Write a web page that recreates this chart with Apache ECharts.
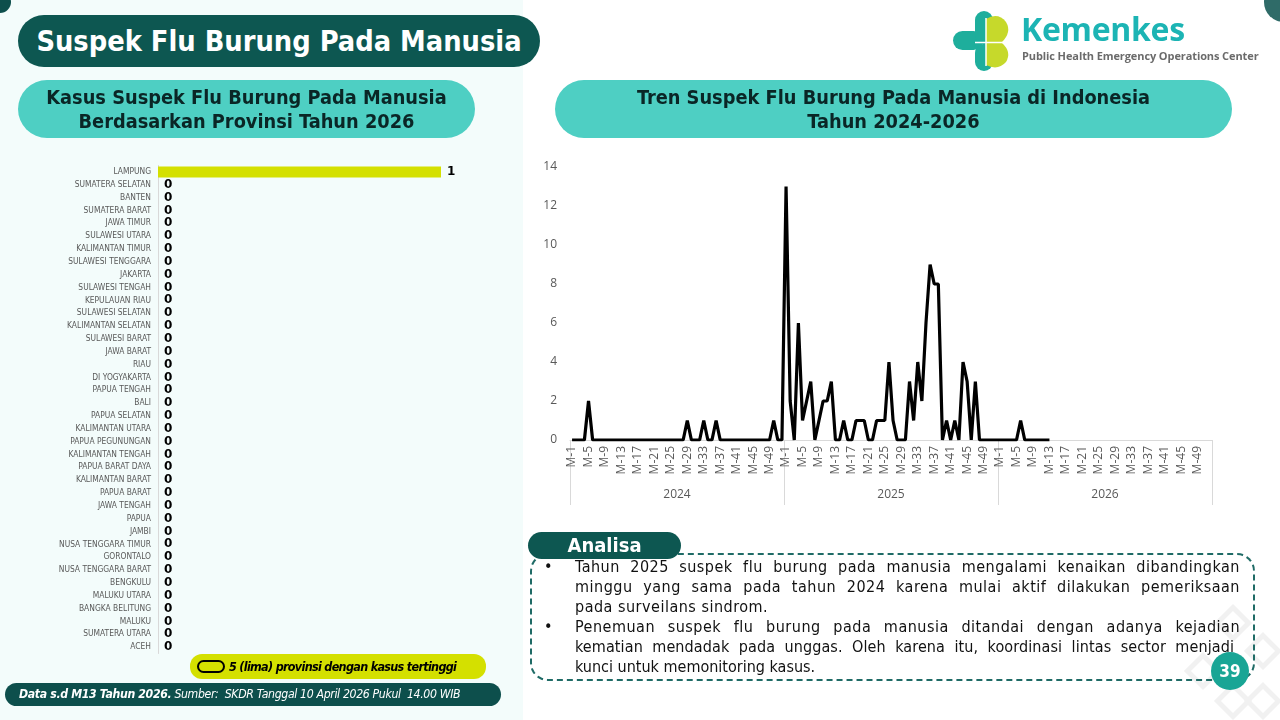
<!DOCTYPE html>
<html>
<head>
<meta charset="utf-8">
<script src="https://cdn.jsdelivr.net/npm/echarts@6/dist/echarts.min.js"></script>
<style>
  html, body { margin:0; padding:0; }
  body { width:1280px; height:720px; overflow:hidden; background:#ffffff; position:relative; font-family:"DejaVu Sans", sans-serif; }
  #leftbg { position:absolute; left:0; top:0; width:523px; height:720px; background:#f3fcfb; }
  #chart { position:absolute; left:0; top:0; width:1280px; height:720px; }
  .abs { position:absolute; box-sizing:border-box; }
  #title { left:18px; top:15px; width:522px; height:52px; border-radius:26px; background:#0d5751; color:#fff;
           font-weight:bold; font-size:28.7px; line-height:52px; text-align:center; font-family:"DejaVu Sans Condensed","DejaVu Sans",sans-serif; }
  .sub { height:58px; border-radius:29px; background:#4ecfc3; color:#0a2626; font-weight:bold; font-size:19.8px;
         line-height:24px; text-align:center; padding-top:6px; font-family:"DejaVu Sans Condensed","DejaVu Sans",sans-serif; }
  #subL { left:18px; top:80px; width:457px; }
  #subR { left:555px; top:80px; width:677px; }
  #box { left:530px; top:553px; width:725px; height:128px; border:2.5px dashed #1f6b66; border-radius:18px; }
  #analisa { left:528px; top:532px; width:153px; height:27px; border-radius:14px; background:#0d5751; color:#fff;
             font-weight:bold; font-size:20px; line-height:27px; text-align:center; font-family:"DejaVu Sans Condensed","DejaVu Sans",sans-serif; }
  #text { left:540px; top:557px; width:700px; font-family:"DejaVu Sans Condensed","DejaVu Sans",sans-serif; font-size:16px; color:#111; }
  #text .ln { margin-left:35px; height:20px; line-height:20px; white-space:nowrap; text-align:justify; text-align-last:justify; letter-spacing:0.5px; }
  #text .ln.last { text-align-last:left; }
  #text .bul { position:absolute; left:4px; }
  #pg { left:1211px; top:652px; width:38px; height:38px; border-radius:19px; background:#19a595; color:#fff; font-weight:bold;
        font-size:17px; line-height:38px; text-align:center; font-family:"DejaVu Sans Condensed","DejaVu Sans",sans-serif; }
  #footer { left:5px; top:683px; width:496px; height:23px; border-radius:12px; background:#0d4f4c; color:#fff; font-size:12.2px;
            line-height:23px; padding-left:14px; font-style:italic; white-space:nowrap; font-family:"DejaVu Sans Condensed","DejaVu Sans",sans-serif; letter-spacing:-0.35px; }
  #legend { left:190px; top:654px; width:296px; height:25px; border-radius:12px; background:#d4e000; }
  #legend .sw { position:absolute; left:7px; top:6px; width:28px; height:13px; border:2.5px solid #000; border-radius:7px; box-sizing:border-box; }
  #legend .tx { position:absolute; left:39px; top:0; line-height:25px; font-size:12.5px; font-weight:bold; font-style:italic; color:#000;
                white-space:nowrap; font-family:"DejaVu Sans Condensed","DejaVu Sans",sans-serif; letter-spacing:-0.7px; }
  #kem { left:1021px; top:6px; font-family:"Open Sans",sans-serif; font-weight:bold; font-size:32px; color:#1cb4b4; line-height:46px; letter-spacing:-0.3px; }
  #phe { left:1022px; top:48px; font-family:"Open Sans",sans-serif; font-weight:bold; font-size:11px; color:#6b6b6b; white-space:nowrap; letter-spacing:-0.1px; }
</style>
</head>
<body>
<div id="leftbg"></div>
<div id="chart"></div>

<svg class="abs" style="left:0;top:0" width="1280" height="720">
  <circle cx="0" cy="2" r="11" fill="#0d4f4c"/>
  <circle cx="1284" cy="2" r="20" fill="#2f6b68"/>
  <!-- logo icon -->
  <rect x="953" y="31" width="30" height="19" rx="9.5" fill="#1eae9c"/>
  <rect x="975" y="11" width="18" height="34" rx="9" fill="#1eae9c"/>
  <rect x="975" y="44" width="18" height="27" rx="9" fill="#1eae9c"/>
  <path d="M986 19 Q998 12 1006 22 Q1012 32 1002 42 L986 42 Z" fill="#c6d92b"/>
  <path d="M986 43 L1002 43 Q1012 52 1006 62 Q998 71 986 65 Z" fill="#c6d92b"/>
  <line x1="986" y1="18" x2="986" y2="66" stroke="#fff" stroke-width="1.5"/>
  <line x1="975" y1="42.5" x2="1008" y2="42.5" stroke="#fff" stroke-width="1.5"/>
  <!-- faint decoration bottom right -->
  <g fill="none" stroke="#f1f1f1" stroke-width="5">
    <rect x="1222" y="612" width="22" height="22" transform="rotate(45 1233 623)"/>
    <rect x="1252" y="640" width="22" height="22" transform="rotate(45 1263 651)"/>
    <rect x="1192" y="660" width="22" height="22" transform="rotate(45 1203 671)"/>
    <rect x="1222" y="690" width="22" height="22" transform="rotate(45 1233 701)"/>
    <rect x="1252" y="690" width="22" height="22" transform="rotate(45 1263 701)"/>
  </g>
</svg>

<div id="kem" class="abs">Kemenkes</div>
<div id="phe" class="abs">Public Health Emergency Operations Center</div>

<div id="title" class="abs">Suspek Flu Burung Pada Manusia</div>
<div id="subL" class="abs sub">Kasus Suspek Flu Burung Pada Manusia<br>Berdasarkan Provinsi Tahun 2026</div>
<div id="subR" class="abs sub">Tren Suspek Flu Burung Pada Manusia di Indonesia<br>Tahun 2024-2026</div>

<div id="box" class="abs"></div>
<div id="analisa" class="abs">Analisa</div>
<div id="text" class="abs">
  <div style="position:relative">
    <span class="bul">•</span>
    <div class="ln">Tahun 2025 suspek flu burung pada manusia mengalami kenaikan dibandingkan</div>
    <div class="ln">minggu yang sama pada tahun 2024 karena mulai aktif dilakukan pemeriksaan</div>
    <div class="ln last">pada surveilans sindrom.</div>
  </div>
  <div style="position:relative">
    <span class="bul">•</span>
    <div class="ln">Penemuan suspek flu burung pada manusia ditandai dengan adanya kejadian</div>
    <div class="ln" style="margin-right:6px;letter-spacing:0.1px">kematian mendadak pada unggas. Oleh karena itu, koordinasi lintas sector menjadi</div>
    <div class="ln last" style="letter-spacing:0">kunci untuk memonitoring kasus.</div>
  </div>
</div>
<div id="pg" class="abs">39</div>

<div id="legend" class="abs"><div class="sw"></div><div class="tx">5 (lima) provinsi dengan kasus tertinggi</div></div>
<div id="footer" class="abs"><b>Data s.d M13 Tahun 2026.</b> Sumber:&nbsp; SKDR Tanggal 10 April 2026 Pukul &nbsp;14.00 WIB</div>

<script>
// ---- Data ----
const provinces = ["LAMPUNG","SUMATERA SELATAN","BANTEN","SUMATERA BARAT","JAWA TIMUR","SULAWESI UTARA","KALIMANTAN TIMUR",
  "SULAWESI TENGGARA","JAKARTA","SULAWESI TENGAH","KEPULAUAN RIAU","SULAWESI SELATAN","KALIMANTAN SELATAN","SULAWESI BARAT",
  "JAWA BARAT","RIAU","DI YOGYAKARTA","PAPUA TENGAH","BALI","PAPUA SELATAN","KALIMANTAN UTARA","PAPUA PEGUNUNGAN",
  "KALIMANTAN TENGAH","PAPUA BARAT DAYA","KALIMANTAN BARAT","PAPUA BARAT","JAWA TENGAH","PAPUA","JAMBI","NUSA TENGGARA TIMUR",
  "GORONTALO","NUSA TENGGARA BARAT","BENGKULU","MALUKU UTARA","BANGKA BELITUNG","MALUKU","SUMATERA UTARA","ACEH"];
const provinceCases = [1,0,0,0,0,0,0,0,0,0,0,0,0,0,0,0,0,0,0,0,0,0,0,0,0,0,0,0,0,0,0,0,0,0,0,0,0,0];

const years = ["2024","2025","2026"];
const weeksPerYear = 52;
const weekNames = [];
for (let k = 1; k <= weeksPerYear; k++) weekNames.push("M-" + k);

const cases2024 = [0,0,0,0,2,0,0,0,0,0, 0,0,0,0,0,0,0,0,0,0, 0,0,0,0,0,0,0,0,1,0,
                   0,0,1,0,0,1,0,0,0,0, 0,0,0,0,0,0,0,0,0,1, 0,0];
const cases2025 = [13,2,0,6,1,2,3,0,1,2, 2,3,0,0,1,0,0,1,1,1, 0,0,1,1,1,4,1,0,0,0,
                   3,1,4,2,6,9,8,8,0,1, 0,1,0,4,3,0,3,0,0,0, 0,0];
const cases2026 = [0,0,0,0,0,1,0,0,0,0,0,0,0];

// ---- Build ----
const weekCats = [];
years.forEach(y => weekNames.forEach(w => weekCats.push(y + "|" + w)));
const lineData = cases2024.concat(cases2025, cases2026);
while (lineData.length < weekCats.length) lineData.push(null);

const chart = echarts.init(document.getElementById('chart'), null, {renderer:'canvas'});
chart.setOption({
  animation: false,
  backgroundColor: 'transparent',
  grid: [
    {left:158, top:165.5, width:283, height:488},
    {left:570, top:167, width:642, height:273}
  ],
  xAxis: [
    {gridIndex:0, type:'value', min:0, max:1, show:false},
    {gridIndex:1, type:'category', data:weekCats, boundaryGap:true,
     axisLine:{show:true, lineStyle:{color:'#d9d9d9', width:1}},
     axisTick:{show:false},
     axisLabel:{interval:3, rotate:90, fontSize:12, color:'#595959', margin:6, fontFamily:'Open Sans',
                formatter: v => v.split('|')[1]}},
    {gridIndex:1, type:'category', data:years, boundaryGap:true, position:'bottom',
     axisLine:{show:false},
     axisTick:{show:true, length:65, lineStyle:{color:'#d9d9d9', width:1}},
     axisLabel:{fontSize:12, color:'#595959', margin:49, fontFamily:'Open Sans'}}
  ],
  yAxis: [
    {gridIndex:0, type:'category', data:provinces, inverse:true,
     axisLine:{show:true, lineStyle:{color:'#d9d9d9', width:1}},
     axisTick:{show:false},
     axisLabel:{fontSize:8.4, color:'#595959', margin:7, fontFamily:'DejaVu Sans Condensed'}},
    {gridIndex:1, type:'value', min:0, max:14, interval:2,
     axisLine:{show:false}, axisTick:{show:false}, splitLine:{show:false},
     axisLabel:{fontSize:12, color:'#595959', margin:13, fontFamily:'Open Sans'}}
  ],
  series: [
    {type:'bar', xAxisIndex:0, yAxisIndex:0, data:provinceCases, barCategoryGap:'14%',
     itemStyle:{color:'#d4e000'},
     label:{show:true, position:'right', distance:6, fontSize:12, fontWeight:'bold', color:'#000', fontFamily:'DejaVu Sans'}},
    {type:'line', xAxisIndex:1, yAxisIndex:1, data:lineData, showSymbol:false, connectNulls:false,
     lineStyle:{color:'#000', width:3.2}}
  ]
});
</script>
</body>
</html>
